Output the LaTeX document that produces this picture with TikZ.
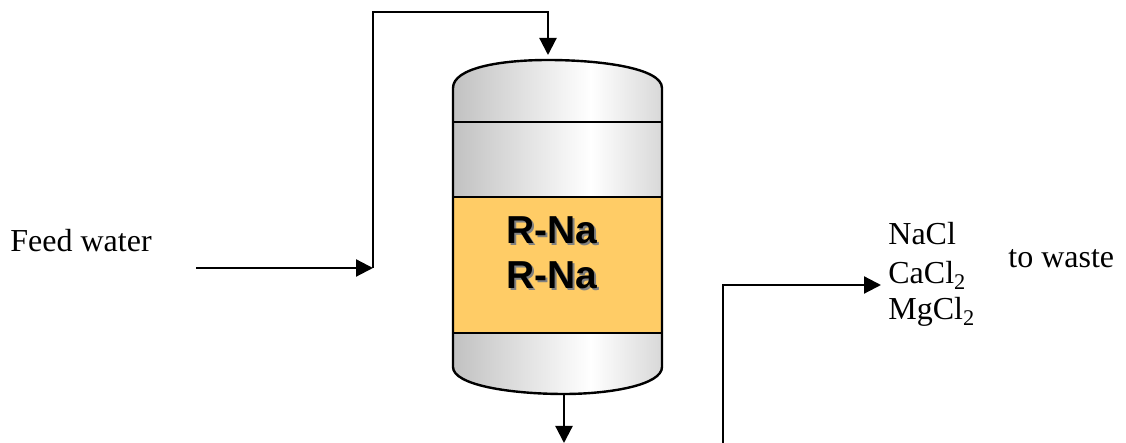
\documentclass[tikz,border=0pt]{standalone}
\usepackage{fontspec}
\usepackage{xcolor}
\usepackage{tikz}
\usetikzlibrary{arrows.meta}
\setmainfont{Liberation Serif}
\newfontfamily\resinfont{Liberation Sans}
\definecolor{resin}{HTML}{FFCC66}
\pgfdeclarehorizontalshading{vessel}{100bp}{color(0bp)=(gray!85); color(58bp)=(white); color(100bp)=(gray!75)}
\begin{document}
\begin{tikzpicture}[x=0.5pt,y=-0.5pt,
    pipe/.style={line width=1.1pt},
    flow/.style={pipe,-{Triangle[length=8.5pt,width=8.5pt]}},
    label/.style={inner sep=0pt,anchor=base west,font=\fontsize{16}{18}\selectfont},
    resintext/.style={inner sep=0pt,anchor=base,font=\resinfont\bfseries\fontsize{19.5}{21}\selectfont}]
    %
    \useasboundingbox (0,0) rectangle (1126,443);
    % vessel body
    \shade[shading=vessel] (453,88) .. controls (453,68) and (500,60) .. (548,60)
        .. controls (600,60) and (662,68) .. (662,88) -- (662,367)
        .. controls (662,385) and (610,394) .. (564,394)
        .. controls (510,394) and (453,385) .. (453,367) -- cycle;
    \fill[resin] (453,197) rectangle (662,333);
    \draw[pipe] (453,122) -- (662,122);
    \draw[pipe] (453,197) -- (662,197);
    \draw[pipe] (453,333) -- (662,333);
    \draw[line width=1.2pt] (453,88) .. controls (453,68) and (500,60) .. (548,60)
        .. controls (600,60) and (662,68) .. (662,88) -- (662,367)
        .. controls (662,385) and (610,394) .. (564,394)
        .. controls (510,394) and (453,385) .. (453,367) -- cycle;
    %
    \node[resintext,text=gray] (shadeA) at (554,246) {R-Na};
    \node[resintext,text=gray] (shadeB) at (554,291) {R-Na};
    \node[resintext] (resinA) at (552,244) {R-Na};
    \node[resintext] (resinB) at (552,289) {R-Na};
    %
    \node[label] (feed) at (10,252) {Feed water};
    \node[label] (nacl) at (888,245) {NaCl};
    \node[label] (cacl) at (888,284) {CaCl\textsubscript{2}};
    \node[label] (mgcl) at (888,320) {MgCl\textsubscript{2}};
    \node[label] (waste) at (1008,268) {to waste};
    %
    \coordinate (feedin) at (196,268);
    \coordinate (feedbend) at (373,268);
    \coordinate (topbend) at (373,12);
    \coordinate (inbend) at (548,12);
    \coordinate (vtop) at (548,55);
    \coordinate (vbot) at (564,394);
    \coordinate (outlet) at (564,443);
    \coordinate (wastein) at (723,443);
    \coordinate (wastebend) at (723,285);
    \coordinate (wasteout) at (881,285);
    %
    \draw[flow] (feedin) -- (feedbend);
    \draw[flow] (feedbend) -- (topbend) -- (inbend) -- (vtop);
    \draw[flow] (vbot) -- (outlet);
    \draw[flow] (wastein) -- (wastebend) -- (wasteout);
    %
\end{tikzpicture}
\end{document}
